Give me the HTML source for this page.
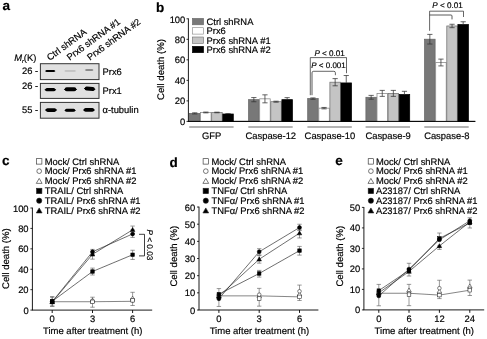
<!DOCTYPE html>
<html><head><meta charset="utf-8"><title>figure</title>
<style>
html,body{margin:0;padding:0;background:#fff;}
body{width:487px;height:339px;overflow:hidden;font-family:"Liberation Sans",sans-serif;}
svg{display:block;}
svg text{font-family:"Liberation Sans",sans-serif;fill:#000;stroke:#000;stroke-width:0.18px;text-rendering:geometricPrecision;}
</style></head><body>
<svg width="487" height="339" viewBox="0 0 487 339">
<defs>
<filter id="soft" x="0" y="0" width="487" height="339" filterUnits="userSpaceOnUse"><feGaussianBlur stdDeviation="0.35"/></filter>
<filter id="blur1" x="-20%" y="-50%" width="140%" height="200%"><feGaussianBlur stdDeviation="0.55"/></filter>
</defs>
<rect width="487" height="339" fill="#fff"/>
<g filter="url(#soft)">
<text x="2.60" y="10.30" font-size="13.5" text-anchor="start" font-weight="bold" font-style="normal" >a</text>
<text x="14.2" y="61.1" font-size="9.4"><tspan font-style="italic">M</tspan><tspan font-size="5.5" dy="1.5" font-style="italic">r</tspan><tspan dy="-1.5">(K)</tspan></text>
<text transform="translate(49.7,60.9) rotate(-36.3)" font-size="9.3">Ctrl shRNA</text>
<text transform="translate(69.7,60.7) rotate(-36.3)" font-size="9.3">Prx6 shRNA #1</text>
<text transform="translate(90,60.7) rotate(-36.3)" font-size="9.3">Prx6 shRNA #2</text>
<rect x="40.4" y="63.7" width="58.6" height="15.899999999999991" fill="#e0e0e0" stroke="#333" stroke-width="1.0"/>
<text x="38.20" y="73.70" font-size="9.4" text-anchor="end" font-weight="normal" font-style="normal" >26 -</text>
<text x="102.50" y="74.80" font-size="9.4" text-anchor="start" font-weight="normal" font-style="normal" >Prx6</text>
<rect x="40.4" y="83.4" width="58.6" height="15.0" fill="#e0e0e0" stroke="#333" stroke-width="1.0"/>
<text x="38.20" y="88.50" font-size="9.4" text-anchor="end" font-weight="normal" font-style="normal" >26 -</text>
<text x="102.50" y="94.40" font-size="9.4" text-anchor="start" font-weight="normal" font-style="normal" >Prx1</text>
<rect x="40.4" y="102.4" width="58.6" height="15.799999999999997" fill="#e0e0e0" stroke="#333" stroke-width="1.0"/>
<text x="38.20" y="112.60" font-size="9.4" text-anchor="end" font-weight="normal" font-style="normal" >55 -</text>
<text x="102.50" y="113.40" font-size="9.4" text-anchor="start" font-weight="normal" font-style="normal" >α-tubulin</text>
<g filter="url(#blur1)">
<g opacity="1">
<ellipse cx="50.25" cy="71.00" rx="5.35" ry="0.63" fill="#000"/>
<rect x="45.65" y="69.95" width="9.20" height="2.10" rx="1.05" fill="#000"/>
</g>
<g opacity="0.45">
<ellipse cx="70.20" cy="70.90" rx="6.20" ry="0.45" fill="#999"/>
<rect x="64.87" y="70.15" width="10.66" height="1.50" rx="0.75" fill="#999"/>
</g>
<g opacity="0.7">
<ellipse cx="89.20" cy="70.00" rx="4.40" ry="0.48" fill="#555"/>
<rect x="85.42" y="69.20" width="7.57" height="1.60" rx="0.80" fill="#555"/>
</g>
<g opacity="1">
<ellipse cx="50.35" cy="89.70" rx="5.85" ry="0.99" fill="#000"/>
<rect x="45.32" y="88.05" width="10.06" height="3.30" rx="1.65" fill="#000"/>
</g>
<g opacity="1">
<ellipse cx="70.50" cy="89.30" rx="6.70" ry="1.17" fill="#000"/>
<rect x="64.74" y="87.35" width="11.52" height="3.90" rx="1.95" fill="#000"/>
</g>
<g transform="rotate(4 89.70 88.80)" opacity="1">
<ellipse cx="89.70" cy="88.80" rx="5.80" ry="1.20" fill="#000"/>
<rect x="84.71" y="86.80" width="9.98" height="4.00" rx="2.00" fill="#000"/>
</g>
<g opacity="1">
<ellipse cx="51.05" cy="110.10" rx="6.15" ry="1.08" fill="#000"/>
<rect x="45.76" y="108.30" width="10.58" height="3.60" rx="1.80" fill="#000"/>
</g>
<g opacity="1">
<ellipse cx="70.10" cy="110.30" rx="5.90" ry="0.90" fill="#000"/>
<rect x="65.03" y="108.80" width="10.15" height="3.00" rx="1.50" fill="#000"/>
</g>
<g opacity="1">
<ellipse cx="89.00" cy="109.90" rx="6.00" ry="1.08" fill="#000"/>
<rect x="83.84" y="108.10" width="10.32" height="3.60" rx="1.80" fill="#000"/>
</g>
</g>
<text x="156.00" y="12.10" font-size="13.5" text-anchor="start" font-weight="bold" font-style="normal" >b</text>
<line x1="188.40" y1="18.40" x2="188.40" y2="121.40" stroke="#000" stroke-width="0.9" />
<line x1="187.95" y1="121.40" x2="475.30" y2="121.40" stroke="#000" stroke-width="0.9" />
<line x1="186.50" y1="121.40" x2="188.40" y2="121.40" stroke="#000" stroke-width="0.8" />
<text x="185.30" y="124.90" font-size="9.4" text-anchor="end" font-weight="normal" font-style="normal" >0</text>
<line x1="186.50" y1="100.88" x2="188.40" y2="100.88" stroke="#000" stroke-width="0.8" />
<text x="185.30" y="104.38" font-size="9.4" text-anchor="end" font-weight="normal" font-style="normal" >20</text>
<line x1="186.50" y1="80.36" x2="188.40" y2="80.36" stroke="#000" stroke-width="0.8" />
<text x="185.30" y="83.86" font-size="9.4" text-anchor="end" font-weight="normal" font-style="normal" >40</text>
<line x1="186.50" y1="59.84" x2="188.40" y2="59.84" stroke="#000" stroke-width="0.8" />
<text x="185.30" y="63.34" font-size="9.4" text-anchor="end" font-weight="normal" font-style="normal" >60</text>
<line x1="186.50" y1="39.32" x2="188.40" y2="39.32" stroke="#000" stroke-width="0.8" />
<text x="185.30" y="42.82" font-size="9.4" text-anchor="end" font-weight="normal" font-style="normal" >80</text>
<line x1="186.50" y1="18.80" x2="188.40" y2="18.80" stroke="#000" stroke-width="0.8" />
<text x="185.30" y="23.00" font-size="9.4" text-anchor="end" font-weight="normal" font-style="normal" >100</text>
<text transform="translate(164.2,69.5) rotate(-90)" font-size="9.6" text-anchor="middle">Cell death (%)</text>
<rect x="192.4" y="18.40" width="11.2" height="6.4" fill="#787878" stroke="#666" stroke-width="0.6"/>
<text x="206.50" y="25.00" font-size="9.4" text-anchor="start" font-weight="normal" font-style="normal" >Ctrl shRNA</text>
<rect x="192.4" y="27.70" width="11.2" height="6.4" fill="#fff" stroke="#858585" stroke-width="0.6"/>
<text x="206.50" y="34.30" font-size="9.4" text-anchor="start" font-weight="normal" font-style="normal" >Prx6</text>
<rect x="192.4" y="37.00" width="11.2" height="6.4" fill="#c4c4c4" stroke="#707070" stroke-width="0.6"/>
<text x="206.50" y="43.60" font-size="9.4" text-anchor="start" font-weight="normal" font-style="normal" >Prx6 shRNA #1</text>
<rect x="192.4" y="46.30" width="11.2" height="6.4" fill="#000" stroke="#000" stroke-width="0.6"/>
<text x="206.50" y="52.90" font-size="9.4" text-anchor="start" font-weight="normal" font-style="normal" >Prx6 shRNA #2</text>
<rect x="189.50" y="113.40" width="10.50" height="8.00" fill="#787878" stroke="#666" stroke-width="0.75"/>
<line x1="194.75" y1="112.80" x2="194.75" y2="114.00" stroke="#333" stroke-width="0.75" />
<line x1="192.15" y1="112.80" x2="197.35" y2="112.80" stroke="#333" stroke-width="0.75" />
<line x1="192.15" y1="114.00" x2="197.35" y2="114.00" stroke="#333" stroke-width="0.75" />
<rect x="200.60" y="112.47" width="10.50" height="8.93" fill="#fff" stroke="#858585" stroke-width="0.75"/>
<line x1="205.85" y1="112.07" x2="205.85" y2="112.87" stroke="#333" stroke-width="0.75" />
<line x1="203.25" y1="112.07" x2="208.45" y2="112.07" stroke="#333" stroke-width="0.75" />
<line x1="203.25" y1="112.87" x2="208.45" y2="112.87" stroke="#333" stroke-width="0.75" />
<rect x="211.70" y="112.47" width="10.50" height="8.93" fill="#c4c4c4" stroke="#707070" stroke-width="0.75"/>
<line x1="216.95" y1="112.17" x2="216.95" y2="112.77" stroke="#333" stroke-width="0.75" />
<line x1="214.35" y1="112.17" x2="219.55" y2="112.17" stroke="#333" stroke-width="0.75" />
<line x1="214.35" y1="112.77" x2="219.55" y2="112.77" stroke="#333" stroke-width="0.75" />
<rect x="222.80" y="114.01" width="10.50" height="7.39" fill="#000" stroke="#000" stroke-width="0.75"/>
<line x1="228.05" y1="113.51" x2="228.05" y2="114.01" stroke="#333" stroke-width="0.75" />
<line x1="225.45" y1="113.51" x2="230.65" y2="113.51" stroke="#333" stroke-width="0.75" />
<line x1="189.20" y1="127.00" x2="233.60" y2="127.00" stroke="#6a6a6a" stroke-width="1.1" />
<text x="211.70" y="138.70" font-size="9.4" text-anchor="middle" font-weight="normal" font-style="normal" >GFP</text>
<rect x="248.60" y="99.65" width="10.50" height="21.75" fill="#787878" stroke="#666" stroke-width="0.75"/>
<line x1="253.85" y1="97.55" x2="253.85" y2="101.75" stroke="#333" stroke-width="0.75" />
<line x1="251.25" y1="97.55" x2="256.45" y2="97.55" stroke="#333" stroke-width="0.75" />
<line x1="251.25" y1="101.75" x2="256.45" y2="101.75" stroke="#333" stroke-width="0.75" />
<rect x="259.70" y="98.83" width="10.50" height="22.57" fill="#fff" stroke="#858585" stroke-width="0.75"/>
<line x1="264.95" y1="94.83" x2="264.95" y2="102.83" stroke="#333" stroke-width="0.75" />
<line x1="262.35" y1="94.83" x2="267.55" y2="94.83" stroke="#333" stroke-width="0.75" />
<line x1="262.35" y1="102.83" x2="267.55" y2="102.83" stroke="#333" stroke-width="0.75" />
<rect x="270.80" y="101.70" width="10.50" height="19.70" fill="#c4c4c4" stroke="#707070" stroke-width="0.75"/>
<line x1="276.05" y1="101.20" x2="276.05" y2="102.20" stroke="#333" stroke-width="0.75" />
<line x1="273.45" y1="101.20" x2="278.65" y2="101.20" stroke="#333" stroke-width="0.75" />
<line x1="273.45" y1="102.20" x2="278.65" y2="102.20" stroke="#333" stroke-width="0.75" />
<rect x="281.90" y="99.65" width="10.50" height="21.75" fill="#000" stroke="#000" stroke-width="0.75"/>
<line x1="287.15" y1="97.65" x2="287.15" y2="99.65" stroke="#333" stroke-width="0.75" />
<line x1="284.55" y1="97.65" x2="289.75" y2="97.65" stroke="#333" stroke-width="0.75" />
<line x1="248.30" y1="127.00" x2="292.70" y2="127.00" stroke="#6a6a6a" stroke-width="1.1" />
<text x="270.80" y="138.70" font-size="9.4" text-anchor="middle" font-weight="normal" font-style="normal" >Caspase-12</text>
<rect x="307.70" y="98.62" width="10.50" height="22.78" fill="#787878" stroke="#666" stroke-width="0.75"/>
<line x1="312.95" y1="97.92" x2="312.95" y2="99.32" stroke="#333" stroke-width="0.75" />
<line x1="310.35" y1="97.92" x2="315.55" y2="97.92" stroke="#333" stroke-width="0.75" />
<line x1="310.35" y1="99.32" x2="315.55" y2="99.32" stroke="#333" stroke-width="0.75" />
<rect x="318.80" y="108.16" width="10.50" height="13.24" fill="#fff" stroke="#858585" stroke-width="0.75"/>
<line x1="324.05" y1="107.46" x2="324.05" y2="108.86" stroke="#333" stroke-width="0.75" />
<line x1="321.45" y1="107.46" x2="326.65" y2="107.46" stroke="#333" stroke-width="0.75" />
<line x1="321.45" y1="108.86" x2="326.65" y2="108.86" stroke="#333" stroke-width="0.75" />
<rect x="329.90" y="82.21" width="10.50" height="39.19" fill="#c4c4c4" stroke="#707070" stroke-width="0.75"/>
<line x1="335.15" y1="78.61" x2="335.15" y2="85.81" stroke="#333" stroke-width="0.75" />
<line x1="332.55" y1="78.61" x2="337.75" y2="78.61" stroke="#333" stroke-width="0.75" />
<line x1="332.55" y1="85.81" x2="337.75" y2="85.81" stroke="#333" stroke-width="0.75" />
<rect x="341.00" y="82.93" width="10.50" height="38.47" fill="#000" stroke="#000" stroke-width="0.75"/>
<line x1="346.25" y1="75.53" x2="346.25" y2="82.93" stroke="#333" stroke-width="0.75" />
<line x1="343.65" y1="75.53" x2="348.85" y2="75.53" stroke="#333" stroke-width="0.75" />
<line x1="307.40" y1="127.00" x2="351.80" y2="127.00" stroke="#6a6a6a" stroke-width="1.1" />
<text x="329.90" y="138.70" font-size="9.4" text-anchor="middle" font-weight="normal" font-style="normal" >Caspase-10</text>
<rect x="365.90" y="97.29" width="10.50" height="24.11" fill="#787878" stroke="#666" stroke-width="0.75"/>
<line x1="371.15" y1="95.39" x2="371.15" y2="99.19" stroke="#333" stroke-width="0.75" />
<line x1="368.55" y1="95.39" x2="373.75" y2="95.39" stroke="#333" stroke-width="0.75" />
<line x1="368.55" y1="99.19" x2="373.75" y2="99.19" stroke="#333" stroke-width="0.75" />
<rect x="377.00" y="93.39" width="10.50" height="28.01" fill="#fff" stroke="#858585" stroke-width="0.75"/>
<line x1="382.25" y1="90.39" x2="382.25" y2="96.39" stroke="#333" stroke-width="0.75" />
<line x1="379.65" y1="90.39" x2="384.85" y2="90.39" stroke="#333" stroke-width="0.75" />
<line x1="379.65" y1="96.39" x2="384.85" y2="96.39" stroke="#333" stroke-width="0.75" />
<rect x="388.10" y="93.39" width="10.50" height="28.01" fill="#c4c4c4" stroke="#707070" stroke-width="0.75"/>
<line x1="393.35" y1="90.39" x2="393.35" y2="96.39" stroke="#333" stroke-width="0.75" />
<line x1="390.75" y1="90.39" x2="395.95" y2="90.39" stroke="#333" stroke-width="0.75" />
<line x1="390.75" y1="96.39" x2="395.95" y2="96.39" stroke="#333" stroke-width="0.75" />
<rect x="399.20" y="94.52" width="10.50" height="26.88" fill="#000" stroke="#000" stroke-width="0.75"/>
<line x1="404.45" y1="91.32" x2="404.45" y2="94.52" stroke="#333" stroke-width="0.75" />
<line x1="401.85" y1="91.32" x2="407.05" y2="91.32" stroke="#333" stroke-width="0.75" />
<line x1="365.60" y1="127.00" x2="410.00" y2="127.00" stroke="#6a6a6a" stroke-width="1.1" />
<text x="388.10" y="138.70" font-size="9.4" text-anchor="middle" font-weight="normal" font-style="normal" >Caspase-9</text>
<rect x="424.60" y="39.22" width="10.50" height="82.18" fill="#787878" stroke="#666" stroke-width="0.75"/>
<line x1="429.85" y1="34.42" x2="429.85" y2="44.02" stroke="#333" stroke-width="0.75" />
<line x1="427.25" y1="34.42" x2="432.45" y2="34.42" stroke="#333" stroke-width="0.75" />
<line x1="427.25" y1="44.02" x2="432.45" y2="44.02" stroke="#333" stroke-width="0.75" />
<rect x="435.70" y="62.51" width="10.50" height="58.89" fill="#fff" stroke="#858585" stroke-width="0.75"/>
<line x1="440.95" y1="59.11" x2="440.95" y2="65.91" stroke="#333" stroke-width="0.75" />
<line x1="438.35" y1="59.11" x2="443.55" y2="59.11" stroke="#333" stroke-width="0.75" />
<line x1="438.35" y1="65.91" x2="443.55" y2="65.91" stroke="#333" stroke-width="0.75" />
<rect x="446.80" y="25.98" width="10.50" height="95.42" fill="#c4c4c4" stroke="#707070" stroke-width="0.75"/>
<line x1="452.05" y1="24.28" x2="452.05" y2="27.68" stroke="#333" stroke-width="0.75" />
<line x1="449.45" y1="24.28" x2="454.65" y2="24.28" stroke="#333" stroke-width="0.75" />
<line x1="449.45" y1="27.68" x2="454.65" y2="27.68" stroke="#333" stroke-width="0.75" />
<rect x="457.90" y="24.55" width="10.50" height="96.85" fill="#000" stroke="#000" stroke-width="0.75"/>
<line x1="463.15" y1="21.75" x2="463.15" y2="24.55" stroke="#333" stroke-width="0.75" />
<line x1="460.55" y1="21.75" x2="465.75" y2="21.75" stroke="#333" stroke-width="0.75" />
<line x1="424.30" y1="127.00" x2="468.70" y2="127.00" stroke="#6a6a6a" stroke-width="1.1" />
<text x="446.80" y="138.70" font-size="9.4" text-anchor="middle" font-weight="normal" font-style="normal" >Caspase-8</text>
<line x1="187.95" y1="121.40" x2="475.30" y2="121.40" stroke="#000" stroke-width="0.9" />
<path d="M310.3 95.2 V57.6 H346.5 V73.2" fill="none" stroke="#111" stroke-width="0.65"/>
<path d="M312 95.2 V72.8 Q312 71.3 313.5 71.3 H333.9 Q335.4 71.3 335.4 72.8 V75.2" fill="none" stroke="#111" stroke-width="0.65"/>
<text x="329.6" y="55.6" font-size="8.1" text-anchor="middle"><tspan font-style="italic">P</tspan> &lt; 0.01</text>
<text x="328.5" y="67.9" font-size="8.0" text-anchor="middle"><tspan font-style="italic">P</tspan> &lt; 0.001</text>
<path d="M429.6 30.8 V11.2 H463.5 V17" fill="none" stroke="#111" stroke-width="0.65"/>
<path d="M429.6 15.0 H451 Q452 15.0 452 16.0 V19.4" fill="none" stroke="#111" stroke-width="0.65"/>
<text x="447.5" y="8.1" font-size="8.1" text-anchor="middle"><tspan font-style="italic">P</tspan> &lt; 0.01</text>
<text x="2.00" y="164.80" font-size="13.5" text-anchor="start" font-weight="bold" font-style="normal" >c</text>
<rect x="36.50" y="158.70" width="5.4" height="5.4" fill="#fff" stroke="#222" stroke-width="0.6"/>
<text x="44.70" y="164.60" font-size="9.4" text-anchor="start" font-weight="normal" font-style="normal" >Mock/ Ctrl shRNA</text>
<circle cx="39.20" cy="171.15" r="2.35" fill="#fff" stroke="#222" stroke-width="0.6"/>
<text x="44.70" y="174.45" font-size="9.4" text-anchor="start" font-weight="normal" font-style="normal" >Mock/ Prx6 shRNA #1</text>
<path d="M39.20 178.40 L42.10 183.39 L36.30 183.39 Z" fill="#fff" stroke="#222" stroke-width="0.6"/>
<text x="44.70" y="184.30" font-size="9.4" text-anchor="start" font-weight="normal" font-style="normal" >Mock/ Prx6 shRNA #2</text>
<rect x="36.50" y="188.25" width="5.4" height="5.4" fill="#000" stroke="#222" stroke-width="0.6"/>
<text x="44.70" y="194.15" font-size="9.4" text-anchor="start" font-weight="normal" font-style="normal" >TRAIL/ Ctrl shRNA</text>
<circle cx="39.20" cy="200.70" r="2.6" fill="#000" stroke="#222" stroke-width="0.6"/>
<text x="44.70" y="204.00" font-size="9.4" text-anchor="start" font-weight="normal" font-style="normal" >TRAIL/ Prx6 shRNA #1</text>
<path d="M39.20 207.95 L42.10 212.94 L36.30 212.94 Z" fill="#000" stroke="#222" stroke-width="0.6"/>
<text x="44.70" y="213.85" font-size="9.4" text-anchor="start" font-weight="normal" font-style="normal" >TRAIL/ Prx6 shRNA #2</text>
<line x1="32.40" y1="207.60" x2="32.40" y2="310.10" stroke="#000" stroke-width="0.9" />
<line x1="31.95" y1="310.10" x2="152.20" y2="310.10" stroke="#000" stroke-width="0.9" />
<line x1="30.40" y1="310.10" x2="32.40" y2="310.10" stroke="#000" stroke-width="0.8" />
<text x="28.60" y="313.60" font-size="9.4" text-anchor="end" font-weight="normal" font-style="normal" >0</text>
<line x1="30.40" y1="289.68" x2="32.40" y2="289.68" stroke="#000" stroke-width="0.8" />
<text x="28.60" y="293.18" font-size="9.4" text-anchor="end" font-weight="normal" font-style="normal" >20</text>
<line x1="30.40" y1="269.26" x2="32.40" y2="269.26" stroke="#000" stroke-width="0.8" />
<text x="28.60" y="272.76" font-size="9.4" text-anchor="end" font-weight="normal" font-style="normal" >40</text>
<line x1="30.40" y1="248.84" x2="32.40" y2="248.84" stroke="#000" stroke-width="0.8" />
<text x="28.60" y="252.34" font-size="9.4" text-anchor="end" font-weight="normal" font-style="normal" >60</text>
<line x1="30.40" y1="228.42" x2="32.40" y2="228.42" stroke="#000" stroke-width="0.8" />
<text x="28.60" y="231.92" font-size="9.4" text-anchor="end" font-weight="normal" font-style="normal" >80</text>
<line x1="30.40" y1="208.00" x2="32.40" y2="208.00" stroke="#000" stroke-width="0.8" />
<text x="28.60" y="211.50" font-size="9.4" text-anchor="end" font-weight="normal" font-style="normal" >100</text>
<line x1="52.20" y1="310.10" x2="52.20" y2="313.00" stroke="#000" stroke-width="0.9" />
<text x="52.20" y="321.70" font-size="9.4" text-anchor="middle" font-weight="normal" font-style="normal" >0</text>
<line x1="92.50" y1="310.10" x2="92.50" y2="313.00" stroke="#000" stroke-width="0.9" />
<text x="92.50" y="321.70" font-size="9.4" text-anchor="middle" font-weight="normal" font-style="normal" >3</text>
<line x1="132.60" y1="310.10" x2="132.60" y2="313.00" stroke="#000" stroke-width="0.9" />
<text x="132.60" y="321.70" font-size="9.4" text-anchor="middle" font-weight="normal" font-style="normal" >6</text>
<text x="92.70" y="333.90" font-size="9.5" text-anchor="middle" font-weight="normal" font-style="normal" >Time after treatment (h)</text>
<text transform="translate(8.9,258.6) rotate(-90)" font-size="9.6" text-anchor="middle">Cell death (%)</text>
<polyline points="52.20,301.73 92.50,301.73 132.60,301.32" fill="none" stroke="#444" stroke-width="0.65"/>
<polyline points="52.20,301.32 92.50,271.51 132.60,254.76" fill="none" stroke="#222" stroke-width="0.65"/>
<polyline points="52.20,302.03 92.50,254.35 132.60,229.85" fill="none" stroke="#222" stroke-width="0.65"/>
<polyline points="52.20,301.73 92.50,251.80 132.60,233.93" fill="none" stroke="#222" stroke-width="0.65"/>
<line x1="52.20" y1="297.23" x2="52.20" y2="306.33" stroke="#555" stroke-width="0.6" />
<line x1="50.00" y1="297.23" x2="54.40" y2="297.23" stroke="#555" stroke-width="0.6" />
<line x1="50.00" y1="306.33" x2="54.40" y2="306.33" stroke="#555" stroke-width="0.6" />
<line x1="92.50" y1="297.23" x2="92.50" y2="307.23" stroke="#555" stroke-width="0.6" />
<line x1="90.30" y1="297.23" x2="94.70" y2="297.23" stroke="#555" stroke-width="0.6" />
<line x1="90.30" y1="307.23" x2="94.70" y2="307.23" stroke="#555" stroke-width="0.6" />
<line x1="132.60" y1="292.30" x2="132.60" y2="305.50" stroke="#555" stroke-width="0.6" />
<line x1="130.40" y1="292.30" x2="134.80" y2="292.30" stroke="#555" stroke-width="0.6" />
<line x1="130.40" y1="305.50" x2="134.80" y2="305.50" stroke="#555" stroke-width="0.6" />
<line x1="52.20" y1="296.62" x2="52.20" y2="306.02" stroke="#555" stroke-width="0.6" />
<line x1="50.00" y1="296.62" x2="54.40" y2="296.62" stroke="#555" stroke-width="0.6" />
<line x1="50.00" y1="306.02" x2="54.40" y2="306.02" stroke="#555" stroke-width="0.6" />
<line x1="92.50" y1="268.11" x2="92.50" y2="275.01" stroke="#555" stroke-width="0.6" />
<line x1="90.30" y1="268.11" x2="94.70" y2="268.11" stroke="#555" stroke-width="0.6" />
<line x1="90.30" y1="275.01" x2="94.70" y2="275.01" stroke="#555" stroke-width="0.6" />
<line x1="132.60" y1="250.26" x2="132.60" y2="259.46" stroke="#555" stroke-width="0.6" />
<line x1="130.40" y1="250.26" x2="134.80" y2="250.26" stroke="#555" stroke-width="0.6" />
<line x1="130.40" y1="259.46" x2="134.80" y2="259.46" stroke="#555" stroke-width="0.6" />
<line x1="92.50" y1="254.35" x2="92.50" y2="259.15" stroke="#555" stroke-width="0.6" />
<line x1="90.30" y1="254.35" x2="94.70" y2="254.35" stroke="#555" stroke-width="0.6" />
<line x1="90.30" y1="259.15" x2="94.70" y2="259.15" stroke="#555" stroke-width="0.6" />
<line x1="132.60" y1="226.05" x2="132.60" y2="229.85" stroke="#555" stroke-width="0.6" />
<line x1="130.40" y1="226.05" x2="134.80" y2="226.05" stroke="#555" stroke-width="0.6" />
<line x1="130.40" y1="229.85" x2="134.80" y2="229.85" stroke="#555" stroke-width="0.6" />
<line x1="92.50" y1="249.40" x2="92.50" y2="251.80" stroke="#555" stroke-width="0.6" />
<line x1="90.30" y1="249.40" x2="94.70" y2="249.40" stroke="#555" stroke-width="0.6" />
<line x1="90.30" y1="251.80" x2="94.70" y2="251.80" stroke="#555" stroke-width="0.6" />
<line x1="132.60" y1="233.93" x2="132.60" y2="237.43" stroke="#555" stroke-width="0.6" />
<line x1="130.40" y1="233.93" x2="134.80" y2="233.93" stroke="#555" stroke-width="0.6" />
<line x1="130.40" y1="237.43" x2="134.80" y2="237.43" stroke="#555" stroke-width="0.6" />
<path d="M52.20 299.48 L54.45 303.42 L49.95 303.42 Z" fill="#fff" stroke="#222" stroke-width="0.55"/>
<path d="M92.50 298.05 L94.75 301.99 L90.25 301.99 Z" fill="#fff" stroke="#222" stroke-width="0.55"/>
<path d="M132.60 296.11 L134.85 300.05 L130.35 300.05 Z" fill="#fff" stroke="#222" stroke-width="0.55"/>
<circle cx="52.20" cy="301.73" r="1.8" fill="#fff" stroke="#222" stroke-width="0.55"/>
<circle cx="92.50" cy="301.73" r="1.8" fill="#fff" stroke="#222" stroke-width="0.55"/>
<circle cx="132.60" cy="300.40" r="1.8" fill="#fff" stroke="#222" stroke-width="0.55"/>
<rect x="50.40" y="299.93" width="3.6" height="3.6" fill="#fff" stroke="#222" stroke-width="0.55"/>
<rect x="90.70" y="300.03" width="3.6" height="3.6" fill="#fff" stroke="#222" stroke-width="0.55"/>
<rect x="130.80" y="298.50" width="3.6" height="3.6" fill="#fff" stroke="#222" stroke-width="0.55"/>
<rect x="50.45" y="299.57" width="3.5" height="3.5" fill="#000" stroke="#000" stroke-width="0.55"/>
<rect x="90.75" y="269.76" width="3.5" height="3.5" fill="#000" stroke="#000" stroke-width="0.55"/>
<rect x="130.85" y="253.01" width="3.5" height="3.5" fill="#000" stroke="#000" stroke-width="0.55"/>
<path d="M52.20 299.78 L54.45 303.72 L49.95 303.72 Z" fill="#000" stroke="#000" stroke-width="0.55"/>
<path d="M92.50 252.10 L94.75 256.04 L90.25 256.04 Z" fill="#000" stroke="#000" stroke-width="0.55"/>
<path d="M132.60 227.60 L134.85 231.54 L130.35 231.54 Z" fill="#000" stroke="#000" stroke-width="0.55"/>
<circle cx="52.20" cy="301.73" r="1.95" fill="#000" stroke="#000" stroke-width="0.55"/>
<circle cx="92.50" cy="251.80" r="1.95" fill="#000" stroke="#000" stroke-width="0.55"/>
<circle cx="132.60" cy="233.93" r="1.95" fill="#000" stroke="#000" stroke-width="0.55"/>
<path d="M139.0 234.3 H144.5 V255.9 H139.0" fill="none" stroke="#000" stroke-width="0.75"/>
<text transform="translate(147.2,244.9) rotate(90)" font-size="8.2" text-anchor="middle"><tspan font-style="italic">P</tspan> &lt; 0.03</text>
<text x="169.40" y="167.00" font-size="13.5" text-anchor="start" font-weight="bold" font-style="normal" >d</text>
<rect x="203.10" y="158.70" width="5.4" height="5.4" fill="#fff" stroke="#222" stroke-width="0.6"/>
<text x="211.50" y="164.60" font-size="9.4" text-anchor="start" font-weight="normal" font-style="normal" >Mock/ Ctrl shRNA</text>
<circle cx="205.80" cy="171.15" r="2.35" fill="#fff" stroke="#222" stroke-width="0.6"/>
<text x="211.50" y="174.45" font-size="9.4" text-anchor="start" font-weight="normal" font-style="normal" >Mock/ Prx6 shRNA #1</text>
<path d="M205.80 178.40 L208.70 183.39 L202.90 183.39 Z" fill="#fff" stroke="#222" stroke-width="0.6"/>
<text x="211.50" y="184.30" font-size="9.4" text-anchor="start" font-weight="normal" font-style="normal" >Mock/ Prx6 shRNA #2</text>
<rect x="203.10" y="188.25" width="5.4" height="5.4" fill="#000" stroke="#222" stroke-width="0.6"/>
<text x="211.50" y="194.15" font-size="9.4" text-anchor="start" font-weight="normal" font-style="normal" >TNFα/ Ctrl shRNA</text>
<circle cx="205.80" cy="200.70" r="2.6" fill="#000" stroke="#222" stroke-width="0.6"/>
<text x="211.50" y="204.00" font-size="9.4" text-anchor="start" font-weight="normal" font-style="normal" >TNFα/ Prx6 shRNA #1</text>
<path d="M205.80 207.95 L208.70 212.94 L202.90 212.94 Z" fill="#000" stroke="#222" stroke-width="0.6"/>
<text x="211.50" y="213.85" font-size="9.4" text-anchor="start" font-weight="normal" font-style="normal" >TNFα/ Prx6 shRNA #2</text>
<line x1="199.00" y1="206.64" x2="199.00" y2="310.00" stroke="#000" stroke-width="0.9" />
<line x1="198.55" y1="310.00" x2="318.40" y2="310.00" stroke="#000" stroke-width="0.9" />
<line x1="197.00" y1="310.00" x2="199.00" y2="310.00" stroke="#000" stroke-width="0.8" />
<text x="195.30" y="313.50" font-size="9.4" text-anchor="end" font-weight="normal" font-style="normal" >0</text>
<line x1="197.00" y1="292.84" x2="199.00" y2="292.84" stroke="#000" stroke-width="0.8" />
<text x="195.30" y="296.34" font-size="9.4" text-anchor="end" font-weight="normal" font-style="normal" >10</text>
<line x1="197.00" y1="275.68" x2="199.00" y2="275.68" stroke="#000" stroke-width="0.8" />
<text x="195.30" y="279.18" font-size="9.4" text-anchor="end" font-weight="normal" font-style="normal" >20</text>
<line x1="197.00" y1="258.52" x2="199.00" y2="258.52" stroke="#000" stroke-width="0.8" />
<text x="195.30" y="262.02" font-size="9.4" text-anchor="end" font-weight="normal" font-style="normal" >30</text>
<line x1="197.00" y1="241.36" x2="199.00" y2="241.36" stroke="#000" stroke-width="0.8" />
<text x="195.30" y="244.86" font-size="9.4" text-anchor="end" font-weight="normal" font-style="normal" >40</text>
<line x1="197.00" y1="224.20" x2="199.00" y2="224.20" stroke="#000" stroke-width="0.8" />
<text x="195.30" y="227.70" font-size="9.4" text-anchor="end" font-weight="normal" font-style="normal" >50</text>
<line x1="197.00" y1="207.04" x2="199.00" y2="207.04" stroke="#000" stroke-width="0.8" />
<text x="195.30" y="210.54" font-size="9.4" text-anchor="end" font-weight="normal" font-style="normal" >60</text>
<line x1="218.90" y1="310.00" x2="218.90" y2="312.90" stroke="#000" stroke-width="0.9" />
<text x="218.90" y="321.70" font-size="9.4" text-anchor="middle" font-weight="normal" font-style="normal" >0</text>
<line x1="259.20" y1="310.00" x2="259.20" y2="312.90" stroke="#000" stroke-width="0.9" />
<text x="259.20" y="321.70" font-size="9.4" text-anchor="middle" font-weight="normal" font-style="normal" >3</text>
<line x1="299.50" y1="310.00" x2="299.50" y2="312.90" stroke="#000" stroke-width="0.9" />
<text x="299.50" y="321.70" font-size="9.4" text-anchor="middle" font-weight="normal" font-style="normal" >6</text>
<text x="259.40" y="333.90" font-size="9.5" text-anchor="middle" font-weight="normal" font-style="normal" >Time after treatment (h)</text>
<text transform="translate(177.1,256.2) rotate(-90)" font-size="9.6" text-anchor="middle">Cell death (%)</text>
<polyline points="218.90,295.86 259.20,295.86 299.50,296.88" fill="none" stroke="#444" stroke-width="0.65"/>
<polyline points="218.90,294.17 259.20,273.49 299.50,250.61" fill="none" stroke="#222" stroke-width="0.65"/>
<polyline points="218.90,296.20 259.20,259.25 299.50,233.15" fill="none" stroke="#222" stroke-width="0.65"/>
<polyline points="218.90,298.74 259.20,251.79 299.50,227.55" fill="none" stroke="#222" stroke-width="0.65"/>
<line x1="259.20" y1="288.37" x2="259.20" y2="306.17" stroke="#555" stroke-width="0.6" />
<line x1="257.00" y1="288.37" x2="261.40" y2="288.37" stroke="#555" stroke-width="0.6" />
<line x1="257.00" y1="306.17" x2="261.40" y2="306.17" stroke="#555" stroke-width="0.6" />
<line x1="299.50" y1="285.08" x2="299.50" y2="300.48" stroke="#555" stroke-width="0.6" />
<line x1="297.30" y1="285.08" x2="301.70" y2="285.08" stroke="#555" stroke-width="0.6" />
<line x1="297.30" y1="300.48" x2="301.70" y2="300.48" stroke="#555" stroke-width="0.6" />
<line x1="218.90" y1="288.57" x2="218.90" y2="294.17" stroke="#555" stroke-width="0.6" />
<line x1="216.70" y1="288.57" x2="221.10" y2="288.57" stroke="#555" stroke-width="0.6" />
<line x1="216.70" y1="294.17" x2="221.10" y2="294.17" stroke="#555" stroke-width="0.6" />
<line x1="259.20" y1="270.39" x2="259.20" y2="277.09" stroke="#555" stroke-width="0.6" />
<line x1="257.00" y1="270.39" x2="261.40" y2="270.39" stroke="#555" stroke-width="0.6" />
<line x1="257.00" y1="277.09" x2="261.40" y2="277.09" stroke="#555" stroke-width="0.6" />
<line x1="299.50" y1="246.41" x2="299.50" y2="255.11" stroke="#555" stroke-width="0.6" />
<line x1="297.30" y1="246.41" x2="301.70" y2="246.41" stroke="#555" stroke-width="0.6" />
<line x1="297.30" y1="255.11" x2="301.70" y2="255.11" stroke="#555" stroke-width="0.6" />
<line x1="259.20" y1="255.55" x2="259.20" y2="263.15" stroke="#555" stroke-width="0.6" />
<line x1="257.00" y1="255.55" x2="261.40" y2="255.55" stroke="#555" stroke-width="0.6" />
<line x1="257.00" y1="263.15" x2="261.40" y2="263.15" stroke="#555" stroke-width="0.6" />
<line x1="299.50" y1="229.95" x2="299.50" y2="237.95" stroke="#555" stroke-width="0.6" />
<line x1="297.30" y1="229.95" x2="301.70" y2="229.95" stroke="#555" stroke-width="0.6" />
<line x1="297.30" y1="237.95" x2="301.70" y2="237.95" stroke="#555" stroke-width="0.6" />
<line x1="218.90" y1="298.74" x2="218.90" y2="306.44" stroke="#555" stroke-width="0.6" />
<line x1="216.70" y1="298.74" x2="221.10" y2="298.74" stroke="#555" stroke-width="0.6" />
<line x1="216.70" y1="306.44" x2="221.10" y2="306.44" stroke="#555" stroke-width="0.6" />
<line x1="259.20" y1="248.69" x2="259.20" y2="254.89" stroke="#555" stroke-width="0.6" />
<line x1="257.00" y1="248.69" x2="261.40" y2="248.69" stroke="#555" stroke-width="0.6" />
<line x1="257.00" y1="254.89" x2="261.40" y2="254.89" stroke="#555" stroke-width="0.6" />
<line x1="299.50" y1="224.25" x2="299.50" y2="230.35" stroke="#555" stroke-width="0.6" />
<line x1="297.30" y1="224.25" x2="301.70" y2="224.25" stroke="#555" stroke-width="0.6" />
<line x1="297.30" y1="230.35" x2="301.70" y2="230.35" stroke="#555" stroke-width="0.6" />
<path d="M218.90 293.61 L221.15 297.55 L216.65 297.55 Z" fill="#fff" stroke="#222" stroke-width="0.55"/>
<path d="M259.20 293.61 L261.45 297.55 L256.95 297.55 Z" fill="#fff" stroke="#222" stroke-width="0.55"/>
<path d="M299.50 291.92 L301.75 295.85 L297.25 295.85 Z" fill="#fff" stroke="#222" stroke-width="0.55"/>
<circle cx="218.90" cy="295.86" r="1.8" fill="#fff" stroke="#222" stroke-width="0.55"/>
<circle cx="259.20" cy="294.68" r="1.8" fill="#fff" stroke="#222" stroke-width="0.55"/>
<circle cx="299.50" cy="291.29" r="1.8" fill="#fff" stroke="#222" stroke-width="0.55"/>
<rect x="217.10" y="294.06" width="3.6" height="3.6" fill="#fff" stroke="#222" stroke-width="0.55"/>
<rect x="257.40" y="296.77" width="3.6" height="3.6" fill="#fff" stroke="#222" stroke-width="0.55"/>
<rect x="297.70" y="295.08" width="3.6" height="3.6" fill="#fff" stroke="#222" stroke-width="0.55"/>
<rect x="217.15" y="292.42" width="3.5" height="3.5" fill="#000" stroke="#000" stroke-width="0.55"/>
<rect x="257.45" y="271.74" width="3.5" height="3.5" fill="#000" stroke="#000" stroke-width="0.55"/>
<rect x="297.75" y="248.86" width="3.5" height="3.5" fill="#000" stroke="#000" stroke-width="0.55"/>
<path d="M218.90 293.95 L221.15 297.89 L216.65 297.89 Z" fill="#000" stroke="#000" stroke-width="0.55"/>
<path d="M259.20 257.00 L261.45 260.94 L256.95 260.94 Z" fill="#000" stroke="#000" stroke-width="0.55"/>
<path d="M299.50 230.90 L301.75 234.83 L297.25 234.83 Z" fill="#000" stroke="#000" stroke-width="0.55"/>
<circle cx="218.90" cy="298.74" r="1.95" fill="#000" stroke="#000" stroke-width="0.55"/>
<circle cx="259.20" cy="251.79" r="1.95" fill="#000" stroke="#000" stroke-width="0.55"/>
<circle cx="299.50" cy="227.55" r="1.95" fill="#000" stroke="#000" stroke-width="0.55"/>
<text x="335.30" y="164.80" font-size="13.5" text-anchor="start" font-weight="bold" font-style="normal" >e</text>
<rect x="368.20" y="158.70" width="5.4" height="5.4" fill="#fff" stroke="#222" stroke-width="0.6"/>
<text x="375.90" y="164.60" font-size="9.4" text-anchor="start" font-weight="normal" font-style="normal" >Mock/ Ctrl shRNA</text>
<circle cx="370.90" cy="171.15" r="2.35" fill="#fff" stroke="#222" stroke-width="0.6"/>
<text x="375.90" y="174.45" font-size="9.4" text-anchor="start" font-weight="normal" font-style="normal" >Mock/ Prx6 shRNA #1</text>
<path d="M370.90 178.40 L373.80 183.39 L368.00 183.39 Z" fill="#fff" stroke="#222" stroke-width="0.6"/>
<text x="375.90" y="184.30" font-size="9.4" text-anchor="start" font-weight="normal" font-style="normal" >Mock/ Prx6 shRNA #2</text>
<rect x="368.20" y="188.25" width="5.4" height="5.4" fill="#000" stroke="#222" stroke-width="0.6"/>
<text x="375.90" y="194.15" font-size="9.4" text-anchor="start" font-weight="normal" font-style="normal" >A23187/ Ctrl shRNA</text>
<circle cx="370.90" cy="200.70" r="2.6" fill="#000" stroke="#222" stroke-width="0.6"/>
<text x="375.90" y="204.00" font-size="9.4" text-anchor="start" font-weight="normal" font-style="normal" >A23187/ Prx6 shRNA #1</text>
<path d="M370.90 207.95 L373.80 212.94 L368.00 212.94 Z" fill="#000" stroke="#222" stroke-width="0.6"/>
<text x="375.90" y="213.85" font-size="9.4" text-anchor="start" font-weight="normal" font-style="normal" >A23187/ Prx6 shRNA #2</text>
<line x1="363.90" y1="207.00" x2="363.90" y2="309.90" stroke="#000" stroke-width="0.9" />
<line x1="363.45" y1="309.90" x2="484.20" y2="309.90" stroke="#000" stroke-width="0.9" />
<line x1="361.90" y1="309.90" x2="363.90" y2="309.90" stroke="#000" stroke-width="0.8" />
<text x="360.30" y="313.40" font-size="9.4" text-anchor="end" font-weight="normal" font-style="normal" >0</text>
<line x1="361.90" y1="289.40" x2="363.90" y2="289.40" stroke="#000" stroke-width="0.8" />
<text x="360.30" y="292.90" font-size="9.4" text-anchor="end" font-weight="normal" font-style="normal" >10</text>
<line x1="361.90" y1="268.90" x2="363.90" y2="268.90" stroke="#000" stroke-width="0.8" />
<text x="360.30" y="272.40" font-size="9.4" text-anchor="end" font-weight="normal" font-style="normal" >20</text>
<line x1="361.90" y1="248.40" x2="363.90" y2="248.40" stroke="#000" stroke-width="0.8" />
<text x="360.30" y="251.90" font-size="9.4" text-anchor="end" font-weight="normal" font-style="normal" >30</text>
<line x1="361.90" y1="227.90" x2="363.90" y2="227.90" stroke="#000" stroke-width="0.8" />
<text x="360.30" y="231.40" font-size="9.4" text-anchor="end" font-weight="normal" font-style="normal" >40</text>
<line x1="361.90" y1="207.40" x2="363.90" y2="207.40" stroke="#000" stroke-width="0.8" />
<text x="360.30" y="210.90" font-size="9.4" text-anchor="end" font-weight="normal" font-style="normal" >50</text>
<line x1="378.80" y1="309.90" x2="378.80" y2="312.80" stroke="#000" stroke-width="0.9" />
<text x="378.80" y="321.70" font-size="9.4" text-anchor="middle" font-weight="normal" font-style="normal" >0</text>
<line x1="409.00" y1="309.90" x2="409.00" y2="312.80" stroke="#000" stroke-width="0.9" />
<text x="409.00" y="321.70" font-size="9.4" text-anchor="middle" font-weight="normal" font-style="normal" >6</text>
<line x1="439.40" y1="309.90" x2="439.40" y2="312.80" stroke="#000" stroke-width="0.9" />
<text x="439.40" y="321.70" font-size="9.4" text-anchor="middle" font-weight="normal" font-style="normal" >12</text>
<line x1="469.80" y1="309.90" x2="469.80" y2="312.80" stroke="#000" stroke-width="0.9" />
<text x="469.80" y="321.70" font-size="9.4" text-anchor="middle" font-weight="normal" font-style="normal" >24</text>
<text x="424.30" y="333.90" font-size="9.5" text-anchor="middle" font-weight="normal" font-style="normal" >Time after treatment (h)</text>
<text transform="translate(342.5,256.2) rotate(-90)" font-size="9.6" text-anchor="middle">Cell death (%)</text>
<polyline points="378.80,293.25 409.00,293.25 439.40,295.08 469.80,290.21" fill="none" stroke="#444" stroke-width="0.65"/>
<polyline points="378.80,290.61 409.00,270.31 439.40,238.44 469.80,223.01" fill="none" stroke="#222" stroke-width="0.65"/>
<polyline points="378.80,292.85 409.00,271.53 439.40,245.95 469.80,222.00" fill="none" stroke="#222" stroke-width="0.65"/>
<polyline points="378.80,295.89 409.00,269.09 439.40,239.86 469.80,220.78" fill="none" stroke="#222" stroke-width="0.65"/>
<line x1="409.00" y1="284.37" x2="409.00" y2="305.67" stroke="#555" stroke-width="0.6" />
<line x1="406.80" y1="284.37" x2="411.20" y2="284.37" stroke="#555" stroke-width="0.6" />
<line x1="406.80" y1="305.67" x2="411.20" y2="305.67" stroke="#555" stroke-width="0.6" />
<line x1="439.40" y1="280.28" x2="439.40" y2="298.58" stroke="#555" stroke-width="0.6" />
<line x1="437.20" y1="280.28" x2="441.60" y2="280.28" stroke="#555" stroke-width="0.6" />
<line x1="437.20" y1="298.58" x2="441.60" y2="298.58" stroke="#555" stroke-width="0.6" />
<line x1="469.80" y1="280.11" x2="469.80" y2="295.51" stroke="#555" stroke-width="0.6" />
<line x1="467.60" y1="280.11" x2="472.00" y2="280.11" stroke="#555" stroke-width="0.6" />
<line x1="467.60" y1="295.51" x2="472.00" y2="295.51" stroke="#555" stroke-width="0.6" />
<line x1="378.80" y1="284.41" x2="378.80" y2="290.61" stroke="#555" stroke-width="0.6" />
<line x1="376.60" y1="284.41" x2="381.00" y2="284.41" stroke="#555" stroke-width="0.6" />
<line x1="376.60" y1="290.61" x2="381.00" y2="290.61" stroke="#555" stroke-width="0.6" />
<line x1="439.40" y1="233.04" x2="439.40" y2="238.44" stroke="#555" stroke-width="0.6" />
<line x1="437.20" y1="233.04" x2="441.60" y2="233.04" stroke="#555" stroke-width="0.6" />
<line x1="437.20" y1="238.44" x2="441.60" y2="238.44" stroke="#555" stroke-width="0.6" />
<line x1="469.80" y1="223.01" x2="469.80" y2="228.01" stroke="#555" stroke-width="0.6" />
<line x1="467.60" y1="223.01" x2="472.00" y2="223.01" stroke="#555" stroke-width="0.6" />
<line x1="467.60" y1="228.01" x2="472.00" y2="228.01" stroke="#555" stroke-width="0.6" />
<line x1="409.00" y1="271.53" x2="409.00" y2="276.03" stroke="#555" stroke-width="0.6" />
<line x1="406.80" y1="271.53" x2="411.20" y2="271.53" stroke="#555" stroke-width="0.6" />
<line x1="406.80" y1="276.03" x2="411.20" y2="276.03" stroke="#555" stroke-width="0.6" />
<line x1="439.40" y1="245.95" x2="439.40" y2="249.45" stroke="#555" stroke-width="0.6" />
<line x1="437.20" y1="245.95" x2="441.60" y2="245.95" stroke="#555" stroke-width="0.6" />
<line x1="437.20" y1="249.45" x2="441.60" y2="249.45" stroke="#555" stroke-width="0.6" />
<line x1="378.80" y1="295.89" x2="378.80" y2="305.79" stroke="#555" stroke-width="0.6" />
<line x1="376.60" y1="295.89" x2="381.00" y2="295.89" stroke="#555" stroke-width="0.6" />
<line x1="376.60" y1="305.79" x2="381.00" y2="305.79" stroke="#555" stroke-width="0.6" />
<line x1="409.00" y1="263.29" x2="409.00" y2="269.09" stroke="#555" stroke-width="0.6" />
<line x1="406.80" y1="263.29" x2="411.20" y2="263.29" stroke="#555" stroke-width="0.6" />
<line x1="406.80" y1="269.09" x2="411.20" y2="269.09" stroke="#555" stroke-width="0.6" />
<line x1="469.80" y1="217.78" x2="469.80" y2="220.78" stroke="#555" stroke-width="0.6" />
<line x1="467.60" y1="217.78" x2="472.00" y2="217.78" stroke="#555" stroke-width="0.6" />
<line x1="467.60" y1="220.78" x2="472.00" y2="220.78" stroke="#555" stroke-width="0.6" />
<path d="M378.80 291.00 L381.05 294.94 L376.55 294.94 Z" fill="#fff" stroke="#222" stroke-width="0.55"/>
<path d="M409.00 287.96 L411.25 291.89 L406.75 291.89 Z" fill="#fff" stroke="#222" stroke-width="0.55"/>
<path d="M439.40 288.97 L441.65 292.91 L437.15 292.91 Z" fill="#fff" stroke="#222" stroke-width="0.55"/>
<path d="M469.80 283.90 L472.05 287.83 L467.55 287.83 Z" fill="#fff" stroke="#222" stroke-width="0.55"/>
<circle cx="378.80" cy="293.25" r="1.8" fill="#fff" stroke="#222" stroke-width="0.55"/>
<circle cx="409.00" cy="293.25" r="1.8" fill="#fff" stroke="#222" stroke-width="0.55"/>
<circle cx="439.40" cy="288.18" r="1.8" fill="#fff" stroke="#222" stroke-width="0.55"/>
<circle cx="469.80" cy="288.58" r="1.8" fill="#fff" stroke="#222" stroke-width="0.55"/>
<rect x="377.00" y="291.45" width="3.6" height="3.6" fill="#fff" stroke="#222" stroke-width="0.55"/>
<rect x="407.20" y="292.87" width="3.6" height="3.6" fill="#fff" stroke="#222" stroke-width="0.55"/>
<rect x="437.60" y="293.28" width="3.6" height="3.6" fill="#fff" stroke="#222" stroke-width="0.55"/>
<rect x="468.00" y="288.41" width="3.6" height="3.6" fill="#fff" stroke="#222" stroke-width="0.55"/>
<rect x="377.05" y="288.86" width="3.5" height="3.5" fill="#000" stroke="#000" stroke-width="0.55"/>
<rect x="407.25" y="268.56" width="3.5" height="3.5" fill="#000" stroke="#000" stroke-width="0.55"/>
<rect x="437.65" y="236.69" width="3.5" height="3.5" fill="#000" stroke="#000" stroke-width="0.55"/>
<rect x="468.05" y="221.26" width="3.5" height="3.5" fill="#000" stroke="#000" stroke-width="0.55"/>
<path d="M378.80 290.60 L381.05 294.53 L376.55 294.53 Z" fill="#000" stroke="#000" stroke-width="0.55"/>
<path d="M409.00 269.28 L411.25 273.22 L406.75 273.22 Z" fill="#000" stroke="#000" stroke-width="0.55"/>
<path d="M439.40 243.70 L441.65 247.64 L437.15 247.64 Z" fill="#000" stroke="#000" stroke-width="0.55"/>
<path d="M469.80 219.75 L472.05 223.69 L467.55 223.69 Z" fill="#000" stroke="#000" stroke-width="0.55"/>
<circle cx="378.80" cy="295.89" r="1.95" fill="#000" stroke="#000" stroke-width="0.55"/>
<circle cx="409.00" cy="269.09" r="1.95" fill="#000" stroke="#000" stroke-width="0.55"/>
<circle cx="439.40" cy="239.86" r="1.95" fill="#000" stroke="#000" stroke-width="0.55"/>
<circle cx="469.80" cy="220.78" r="1.95" fill="#000" stroke="#000" stroke-width="0.55"/>
</g>
</svg>
</body></html>
